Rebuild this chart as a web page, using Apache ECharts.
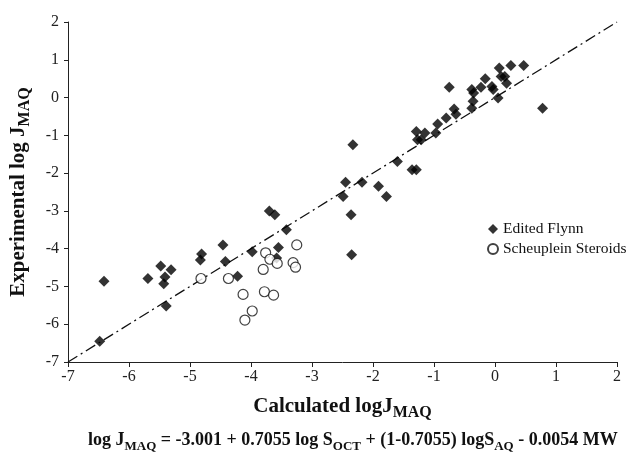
<!DOCTYPE html>
<html>
<head>
<meta charset="utf-8">
<script src="https://cdn.jsdelivr.net/npm/echarts@6.0.0/dist/echarts.min.js"></script>
<style>
  html, body { margin: 0; padding: 0; background: #fff; }
  #chart { width: 632px; height: 457px; }
</style>
</head>
<body>
<div id="chart"></div>
<script>
  // Edited Flynn (filled diamonds)
  const flynnX = [-6.48, -6.41, -5.69, -5.48, -5.41, -5.43, -5.31, -5.39, -4.81, -4.83,
    -4.46, -4.42, -4.22, -3.98, -3.70, -3.61, -3.55, -3.58, -3.42,
    -2.49, -2.45, -2.36, -2.35, -2.33, -2.18, -1.91, -1.78, -1.60, -1.36, -1.29,
    -1.29, -1.27, -1.21, -1.15, -0.97, -0.94, -0.80, -0.67, -0.64, -0.75,
    -0.38, -0.35, -0.36, -0.38, -0.23, -0.16, -0.05, -0.03, 0.05, 0.07,
    0.10, 0.16, 0.19, 0.26, 0.47, 0.78];
  const flynnY = [-6.45, -4.86, -4.79, -4.46, -4.75, -4.93, -4.56, -5.52, -4.14, -4.30,
    -3.90, -4.34, -4.73, -4.08, -3.00, -3.10, -3.97, -4.25, -3.50,
    -2.62, -2.24, -3.10, -4.16, -1.25, -2.24, -2.35, -2.62, -1.69, -1.91, -1.91,
    -0.90, -1.12, -1.12, -0.94, -0.94, -0.70, -0.54, -0.30, -0.44, 0.27,
    0.21, 0.12, -0.10, -0.28, 0.27, 0.50, 0.29, 0.21, -0.01, 0.78,
    0.56, 0.56, 0.38, 0.85, 0.85, -0.28];

  // Scheuplein Steroids (open circles)
  const steroidX = [-4.82, -4.37, -4.13, -4.10, -3.98, -3.76, -3.69, -3.80, -3.57,
    -3.78, -3.63, -3.31, -3.27, -3.25];
  const steroidY = [-4.79, -4.79, -5.21, -5.89, -5.65, -4.11, -4.28, -4.55, -4.39,
    -5.14, -5.23, -4.37, -4.49, -3.90];

  // line of identity
  const lineX = [-7, 2];
  const lineY = [-7, 2];

  const zip = (xs, ys) => xs.map((x, i) => [x, ys[i]]);

  const serif = '"Liberation Serif", "DejaVu Serif", serif';

  const titleRich = {
    b: { fontFamily: serif, fontSize: 21, fontWeight: 'bold', color: '#111', verticalAlign: 'bottom', lineHeight: 24 },
    s: { fontFamily: serif, fontSize: 16, fontWeight: 'bold', color: '#111', verticalAlign: 'bottom', lineHeight: 18, padding: [0, 0, -4, 0] }
  };

  const chart = echarts.init(document.getElementById('chart'));
  chart.setOption({
    animation: false,
    backgroundColor: '#fff',
    grid: { left: 67, right: 15, top: 22, bottom: 95 },
    legend: {
      data: ['Edited Flynn', 'Scheuplein Steroids'],
      orient: 'vertical',
      left: 482,
      top: 216,
      itemWidth: 10,
      itemHeight: 10,
      itemGap: 4,
      textStyle: { fontFamily: serif, fontSize: 15.5, color: '#111' }
    },
    xAxis: {
      type: 'value',
      min: -7, max: 2, interval: 1,
      name: '{b|Calculated logJ}{s|MAQ}',
      nameLocation: 'middle',
      nameGap: 31,
      nameTextStyle: { rich: titleRich },
      axisLine: { show: true, onZero: false, lineStyle: { color: '#222', width: 1 } },
      axisTick: { show: true, inside: false, length: 5, lineStyle: { color: '#222' } },
      axisLabel: { fontFamily: serif, fontSize: 16, color: '#222', margin: 7 },
      splitLine: { show: false }
    },
    yAxis: {
      type: 'value',
      min: -7, max: 2, interval: 1,
      name: '{b|Experimental log J}{s|MAQ}',
      nameLocation: 'middle',
      nameGap: 39,
      nameRotate: 90,
      nameTextStyle: { rich: titleRich },
      axisLine: { show: true, onZero: false, lineStyle: { color: '#222', width: 1 } },
      axisTick: { show: true, inside: false, length: 4, lineStyle: { color: '#222' } },
      axisLabel: { fontFamily: serif, fontSize: 16, color: '#222', margin: 9 },
      splitLine: { show: false }
    },
    series: [
      {
        name: 'identity',
        type: 'line',
        data: zip(lineX, lineY),
        symbol: 'none',
        silent: true,
        lineStyle: { color: '#111', width: 1.3, type: [11, 4, 2, 4] },
        z: 1
      },
      {
        name: 'Edited Flynn',
        type: 'scatter',
        data: zip(flynnX, flynnY),
        symbol: 'diamond',
        symbolSize: 11,
        itemStyle: { color: '#000' },
        z: 3
      },
      {
        name: 'Scheuplein Steroids',
        type: 'scatter',
        data: zip(steroidX, steroidY),
        symbol: 'circle',
        symbolSize: 10,
        itemStyle: { color: '#fff', borderColor: '#111', borderWidth: 1.2 },
        z: 3
      }
    ],
    graphic: [
      {
        type: 'text',
        left: 88,
        top: 431,
        style: {
          text: '{b|log J}{s|MAQ}{b| = -3.001 + 0.7055 log S}{s|OCT}{b| + (1-0.7055) logS}{s|AQ}{b| - 0.0054 MW}',
          rich: {
            b: { fontFamily: serif, fontSize: 18, fontWeight: 'bold', fill: '#111', verticalAlign: 'bottom', lineHeight: 20 },
            s: { fontFamily: serif, fontSize: 13, fontWeight: 'bold', fill: '#111', verticalAlign: 'bottom', lineHeight: 14, padding: [0, 0, -4, 0] }
          }
        }
      }
    ]
  });
</script>
</body>
</html>
